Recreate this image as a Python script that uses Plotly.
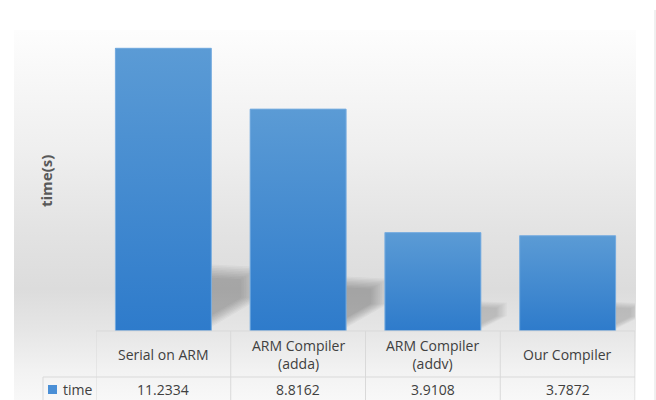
import plotly.graph_objects as go

categories = ["Serial on ARM", "ARM Compiler<br>(adda)", "ARM Compiler<br>(addv)", "Our Compiler"]
times = [11.2334, 8.8162, 3.9108, 3.7872]
series_name = "time"
y_title = "time(s)"

W, H = 656, 400


def px(x):
    return x / W


def py(y):
    return 1 - y / H


FONT = "Open Sans"
TEXT = "#404040"
BAR_TOP = "#5b9bd5"
BAR_BOT = "#2e7bcb"
BAR_EDGE = "#7aaee0"
GRID = "#d9d9d9"
HALF = 0.356

fig = go.Figure()

# chart-area background gradient (own invisible axes, drawn first)
fig.add_trace(go.Scatter(
    x=[0, 1, 1, 0, 0], y=[0, 0, 1, 1, 0], fill="toself", mode="none",
    hoverinfo="skip", showlegend=False, xaxis="x", yaxis="y",
    fillgradient=dict(type="vertical", start=0, stop=1, colorscale=[
        [0.0, "#f8f8f8"], [0.08, "#f2f2f2"], [0.186, "#e6e6e6"],
        [0.30, "#dcdcdc"], [0.46, "#e3e3e3"], [0.68, "#efefef"], [1.0, "#fdfdfd"]]),
))

xs = list(range(len(times)))
vmax = max(times)

# soft shadows behind bars
N_LAYERS = 9
for i, v in zip(xs, times):
    R = i + HALF
    h = 0.4 + 0.2 * v
    w = 0.1 + 0.024 * v
    alpha = 0.36 * (v / vmax) ** 0.5
    ax, ay = R, 0.5 * h
    pts = [(R, 0.06 * h), (R, h), (R + w, 0.96 * h), (R + w, 0.5 * h), (R, 0.06 * h)]
    for k in range(N_LAYERS):
        s = 1.0 - k * 0.05
        fig.add_trace(go.Scatter(
            x=[ax + (p[0] - ax) * s for p in pts],
            y=[ay + (p[1] - ay) * s for p in pts],
            fill="toself", mode="none", hoverinfo="skip", showlegend=False,
            xaxis="x2", yaxis="y2",
            fillcolor=f"rgba(40,40,40,{alpha / N_LAYERS:.4f})",
        ))

fig.add_trace(go.Bar(
    x=xs, y=times, width=2 * HALF, name=series_name,
    marker=dict(color="#4a8fd6", line=dict(width=0)),
    xaxis="x2", yaxis="y2", showlegend=False,
))

for i, v in zip(xs, times):
    fig.add_trace(go.Scatter(
        x=[i - HALF, i + HALF, i + HALF, i - HALF, i - HALF], y=[0, 0, v, v, 0],
        fill="toself", mode="lines", line=dict(color=BAR_EDGE, width=1),
        hoverinfo="skip", showlegend=False, xaxis="x2", yaxis="y2",
        fillgradient=dict(type="vertical", start=0, stop=v,
                          colorscale=[[0, BAR_BOT], [1, BAR_TOP]]),
    ))

annotations = [dict(
    text=f"<b>{y_title}</b>", x=px(46), y=py(181), xref="paper", yref="paper",
    xanchor="center", yanchor="middle",
    textangle=-90, showarrow=False, font=dict(size=15, color="#595959", family=FONT),
)]
for i, c in enumerate(categories):
    annotations.append(dict(text=c, x=i, y=py(354), xref="x2", yref="paper",
                            showarrow=False, yanchor="middle",
                            font=dict(size=14, color=TEXT, family=FONT)))
for i, v in enumerate(times):
    annotations.append(dict(text=f"{v:.4f}", x=i, y=py(389), xref="x2", yref="paper",
                            showarrow=False, yanchor="middle",
                            font=dict(size=14, color=TEXT, family=FONT)))
annotations.append(dict(text=series_name, x=px(61), y=py(389), xref="paper", yref="paper",
                        xanchor="left", yanchor="middle", showarrow=False,
                        font=dict(size=14, color=TEXT, family=FONT)))

shapes = []
line = dict(color=GRID, width=1)
shapes.append(dict(type="line", xref="x2", yref="paper", x0=-0.5, x1=len(times) - 0.5,
                   y0=py(331), y1=py(331), line=line))
shapes.append(dict(type="line", xref="paper", yref="paper", x0=px(43), x1=px(635),
                   y0=py(377), y1=py(377), line=line))
for k in range(len(times) + 1):
    shapes.append(dict(type="line", xref="x2", yref="paper", x0=k - 0.5, x1=k - 0.5,
                       y0=py(331), y1=0, line=line))
shapes.append(dict(type="line", xref="paper", yref="paper", x0=px(43), x1=px(43),
                   y0=py(377), y1=0, line=line))
shapes.append(dict(type="rect", xref="paper", yref="paper", x0=px(48), x1=px(57),
                   y0=py(394), y1=py(385), fillcolor="#4a8fd6", line=dict(width=0)))
shapes.append(dict(type="line", xref="paper", yref="paper", x0=px(655), x1=px(655),
                   y0=py(10), y1=0, line=dict(color="#e0e0e0", width=1)))

fig.update_layout(
    width=W, height=H, margin=dict(l=0, r=0, t=0, b=0),
    paper_bgcolor="white", plot_bgcolor="rgba(0,0,0,0)",
    font=dict(family=FONT, color=TEXT),
    xaxis=dict(domain=[px(14), px(636)], range=[0, 1], visible=False, fixedrange=True, anchor="y"),
    yaxis=dict(domain=[0, py(30)], range=[0, 1], visible=False, fixedrange=True, anchor="x"),
    xaxis2=dict(domain=[px(96), px(635)], range=[-0.5, len(times) - 0.5], visible=False,
                anchor="y2", fixedrange=True),
    yaxis2=dict(domain=[py(331), py(29)], range=[0, 12], visible=False, anchor="x2",
                fixedrange=True),
    annotations=annotations, shapes=shapes, showlegend=False, bargap=0,
)

fig.write_html("out.html")
